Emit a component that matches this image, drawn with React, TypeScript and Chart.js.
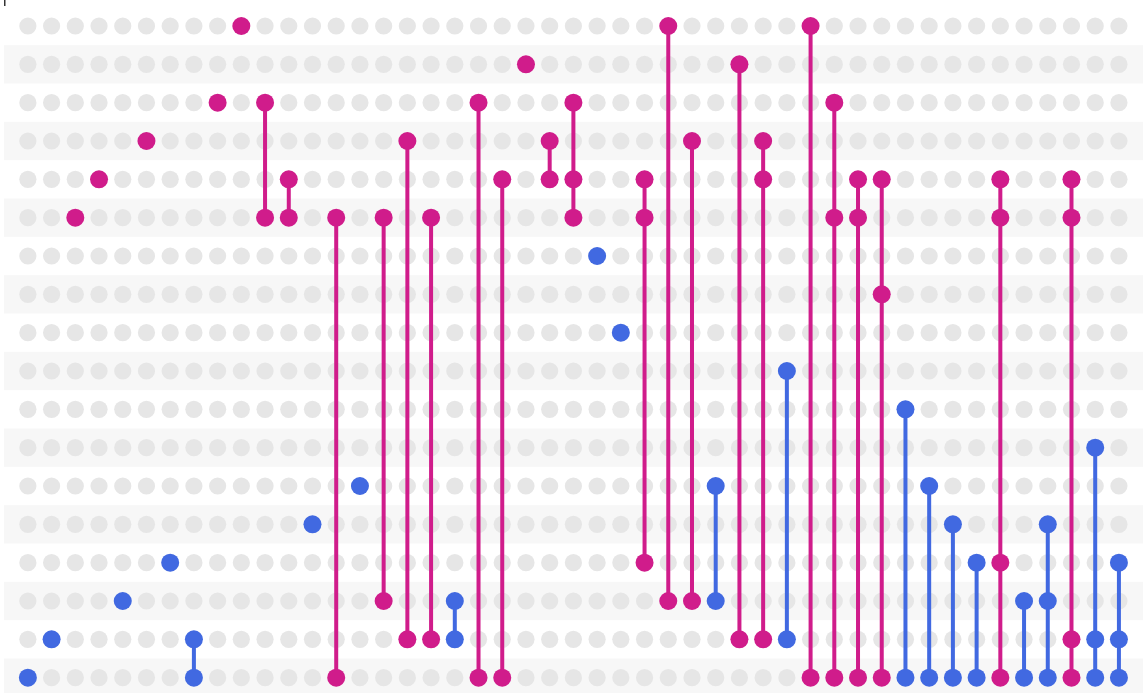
import React, { useEffect, useRef } from "react";
import { Chart, registerables } from "chart.js";

Chart.register(...registerables);

// Number of sets (matrix rows, top to bottom) and intersections (columns, left to right)
const ROW_COUNT = 18;

// Rows that take part in each intersection column
const memberships: number[][] = [
  [17], [16], [5], [4], [15], [3], [14], [16, 17], [2], [0],
  [2, 5], [4, 5], [13], [5, 17], [12], [5, 15], [3, 16], [5, 16], [15, 16], [2, 17],
  [4, 17], [1], [3, 4], [2, 4, 5], [6], [8], [4, 5, 14], [0, 15], [3, 15], [12, 15],
  [1, 16], [3, 4, 16], [9, 16], [0, 17], [2, 5, 17], [4, 5, 17], [4, 7, 17], [10, 17], [12, 17], [13, 17],
  [14, 17], [4, 5, 14, 17], [15, 17], [13, 15, 17], [4, 5, 16, 17], [11, 16, 17], [14, 16, 17],
];

// Group of each intersection column: "a" touches the upper sets, "b" only the lower ones
const groups: string[] = [
  "b", "b", "a", "a", "b", "a", "b", "b", "a", "a",
  "a", "a", "b", "a", "b", "a", "a", "a", "b", "a",
  "a", "a", "a", "a", "b", "b", "a", "a", "a", "b",
  "a", "a", "b", "a", "a", "a", "a", "b", "b", "b",
  "b", "a", "b", "b", "a", "b", "b",
];

const COLORS: Record<string, string> = { a: "#D01C8B", b: "#4169E1" };
const EMPTY_DOT = "#E6E6E6";
const BAND = "#F7F7F7";

const COL_COUNT = memberships.length;

// Alternating row bands plus a small axis stub in the top-left corner
const bandsPlugin = {
  id: "rowBands",
  beforeDatasetsDraw(chart: any) {
    const { ctx, scales } = chart;
    const y = scales.y;
    ctx.save();
    ctx.fillStyle = BAND;
    for (let r = 1; r < ROW_COUNT; r += 2) {
      const top = y.getPixelForValue(r - 0.5);
      const bottom = y.getPixelForValue(r + 0.5);
      ctx.fillRect(4, top, chart.width - 4, bottom - top);
    }
    ctx.strokeStyle = "#333333";
    ctx.lineWidth = 1.5;
    ctx.beginPath();
    ctx.moveTo(4.75, 0);
    ctx.lineTo(4.75, 6);
    ctx.stroke();
    ctx.restore();
  },
};

export default function App() {
  const canvasRef = useRef<HTMLCanvasElement | null>(null);

  useEffect(() => {
    if (!canvasRef.current) return;

    const emptyPoints: { x: number; y: number }[] = [];
    for (let c = 0; c < COL_COUNT; c++) {
      for (let r = 0; r < ROW_COUNT; r++) emptyPoints.push({ x: c, y: r });
    }

    const columnSets = memberships.map((rows, c) => {
      const color = COLORS[groups[c]];
      return {
        type: "line" as const,
        data: rows.map((r) => ({ x: c, y: r })),
        borderColor: color,
        borderWidth: 4,
        pointRadius: 9,
        pointBackgroundColor: color,
        pointBorderWidth: 0,
        pointHoverRadius: 9,
        order: 0,
      };
    });

    const chart = new Chart(canvasRef.current, {
      type: "scatter",
      data: {
        datasets: [
          ...columnSets,
          {
            type: "scatter" as const,
            data: emptyPoints,
            pointRadius: 8.6,
            pointBackgroundColor: EMPTY_DOT,
            pointBorderWidth: 0,
            order: 10,
          },
        ] as any,
      },
      options: {
        animation: false,
        responsive: false,
        maintainAspectRatio: false,
        layout: { padding: 0, autoPadding: false },
        plugins: {
          legend: { display: false },
          tooltip: { enabled: false },
        },
        scales: {
          x: {
            type: "linear",
            display: false,
            min: -1.175,
            max: 47.015,
          },
          y: {
            type: "linear",
            display: false,
            reverse: true,
            min: -0.678,
            max: 17.4,
          },
        },
      },
      plugins: [bandsPlugin],
    });

    return () => chart.destroy();
  }, []);

  return (
    <div style={{ position: "absolute", left: 0, top: 0, width: 1143, height: 693, background: "#ffffff" }}>
      <canvas ref={canvasRef} width={1143} height={693} style={{ display: "block" }} />
    </div>
  );
}
